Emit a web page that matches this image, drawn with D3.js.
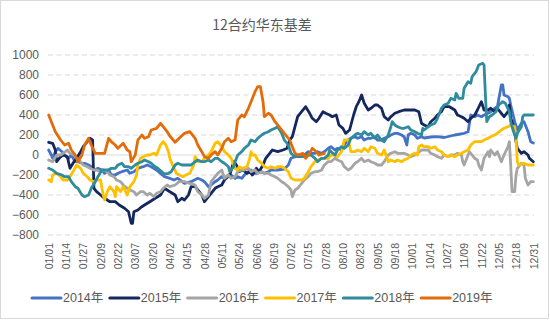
<!DOCTYPE html>
<html><head><meta charset="utf-8">
<script src="https://cdn.jsdelivr.net/npm/d3@7"></script>
<style>
body{margin:0;background:#fff;}
text{font-family:"Liberation Sans","Noto Sans CJK SC",sans-serif;fill:#595959;}
</style>
</head><body>
<svg id="chart" width="550" height="321"></svg>
<script>
const title = "12合约华东基差";
const seriesNames = ["2014年","2015年","2016年","2017年","2018年","2019年"];
const yTicks = [-800,-600,-400,-200,0,200,400,600,800,1000];
const xTickLabels = ["01/01","01/14","01/27","02/09","02/22","03/07","03/20","04/02","04/15","04/28","05/11","05/24","06/06","06/19","07/02","07/15","07/28","08/10","08/23","09/05","09/18","10/01","10/14","10/27","11/09","11/22","12/05","12/18","12/31"];

// [day of year, basis]
const s2014 = [[1,50],[3,0],[4,-33],[6,33],[8,67],[11,33],[13,0],[16,-33],[18,0],[21,-67],[23,-67],[26,-83],[28,-83],[31,-100],[33,-117],[36,-150],[38,-133],[41,-150],[43,-183],[46,-150],[48,-200],[51,-200],[53,-183],[56,-167],[60,-150],[62,-183],[65,-167],[68,-133],[72,-117],[75,-100],[78,-117],[82,-150],[85,-183],[88,-217],[92,-233],[95,-250],[98,-233],[103,-283],[108,-267],[113,-233],[116,-250],[118,-267],[121,-317],[123,-300],[126,-267],[128,-250],[131,-217],[133,-233],[136,-200],[138,-200],[141,-233],[143,-217],[146,-233],[148,-200],[151,-167],[153,-150],[156,-183],[158,-183],[161,-167],[163,-183],[166,-167],[168,-150],[171,-150],[173,-150],[178,-140],[181,-100],[183,-33],[186,-17],[188,-17],[191,-17],[193,0],[196,33],[198,17],[201,17],[203,33],[206,17],[208,33],[211,67],[213,83],[216,50],[218,67],[221,50],[223,100],[226,150],[228,167],[231,183],[233,167],[236,183],[238,150],[241,167],[243,167],[246,183],[248,150],[251,150],[253,167],[256,183],[258,200],[261,217],[263,217],[266,200],[268,183],[270,100],[271,200],[273,217],[276,200],[278,167],[281,183],[283,170],[288,180],[293,183],[298,175],[306,200],[313,217],[316,233],[318,400],[321,383],[323,400],[326,383],[328,400],[331,417],[333,433],[336,467],[338,483],[341,700],[342,700],[343,600],[346,583],[347,567],[348,500],[351,333],[353,250],[356,317],[358,333],[359,300],[361,233],[363,133],[365,120]];
const s2015 = [[1,127],[4,117],[6,50],[7,-67],[10,-17],[12,0],[15,-17],[17,-133],[20,-67],[22,-33],[25,33],[27,83],[30,133],[32,167],[34,150],[35,-333],[37,-367],[40,-400],[43,-433],[47,-467],[51,-467],[54,-500],[58,-533],[61,-567],[63,-683],[64,-683],[65,-567],[68,-550],[71,-517],[73,-500],[77,-467],[81,-433],[85,-400],[88,-333],[92,-367],[96,-400],[98,-467],[101,-433],[103,-450],[106,-400],[108,-317],[111,-317],[113,-350],[116,-400],[118,-467],[121,-417],[123,-383],[126,-333],[128,-317],[131,-300],[133,-250],[137,-200],[140,-67],[142,-100],[144,-167],[147,-150],[150,-183],[152,-167],[154,-200],[157,-133],[159,-167],[162,-100],[164,-33],[167,17],[169,50],[173,33],[177,50],[180,67],[182,150],[184,183],[186,283],[188,383],[191,433],[193,467],[194,483],[197,417],[199,367],[202,333],[204,367],[207,433],[209,417],[212,400],[214,383],[217,400],[219,300],[222,267],[224,217],[227,250],[230,400],[232,483],[234,533],[236,600],[238,517],[241,450],[243,467],[246,500],[248,500],[251,467],[253,383],[256,350],[258,383],[261,417],[264,433],[268,450],[272,450],[276,450],[279,433],[281,317],[283,300],[286,283],[288,333],[291,367],[293,400],[296,433],[298,483],[302,483],[306,450],[308,400],[311,383],[313,367],[316,333],[318,367],[321,400],[323,450],[326,533],[328,450],[331,450],[333,467],[336,433],[338,467],[341,417],[343,383],[346,433],[347,500],[348,367],[349,333],[351,233],[352,133],[353,67],[356,17],[358,33],[361,0],[362,-33],[365,-67]];
const s2016 = [[1,-50],[4,-67],[7,0],[10,0],[12,17],[15,50],[17,17],[20,0],[22,-33],[25,-67],[27,-100],[30,-117],[32,-133],[35,-150],[37,-150],[40,-167],[42,-150],[45,-167],[47,-200],[50,-217],[52,-250],[55,-267],[57,-300],[60,-333],[62,-350],[65,-367],[67,-400],[70,-367],[72,-367],[75,-400],[77,-383],[80,-417],[82,-383],[85,-367],[87,-333],[90,-300],[92,-317],[96,-300],[99,-267],[103,-267],[107,-283],[111,-300],[113,-367],[116,-400],[118,-433],[121,-400],[123,-267],[126,-217],[128,-183],[131,-150],[133,-233],[136,-200],[138,-233],[141,-217],[143,-167],[146,-150],[148,-150],[151,-133],[153,-167],[156,-150],[158,-183],[161,-167],[163,-183],[166,-183],[168,-200],[171,-217],[173,-233],[176,-267],[178,-283],[181,-317],[183,-350],[184,-417],[186,-350],[188,-333],[191,-283],[193,-250],[196,-217],[198,-183],[201,-167],[203,-167],[206,-150],[208,-100],[211,-67],[213,-67],[216,-33],[218,-50],[221,-67],[223,-117],[226,-150],[228,-133],[231,-83],[233,-67],[236,-33],[238,-67],[241,-50],[243,-67],[246,-83],[248,-100],[251,-100],[253,-67],[256,0],[258,17],[261,33],[263,17],[266,17],[268,17],[271,0],[273,-17],[276,0],[278,17],[281,50],[283,50],[286,50],[288,17],[291,0],[293,-17],[296,-33],[298,0],[301,-17],[303,0],[306,0],[308,17],[311,0],[312,-67],[313,-100],[316,0],[317,33],[318,17],[321,-33],[323,-50],[324,-100],[326,-150],[328,-33],[331,33],[332,-17],[333,50],[336,0],[338,33],[341,-67],[343,0],[346,83],[347,133],[348,-100],[349,-367],[351,-367],[352,-200],[353,-133],[356,-83],[358,-100],[359,-233],[361,-300],[363,-267],[365,-267]];
const s2017 = [[1,-250],[3,-267],[4,-200],[7,-183],[10,-217],[12,-250],[15,-250],[17,-217],[20,-150],[22,-100],[25,-133],[27,-183],[30,-217],[32,-250],[35,-267],[37,-250],[40,-250],[41,-333],[42,-400],[43,-450],[45,-367],[47,-317],[50,-367],[51,-417],[52,-317],[55,-367],[57,-317],[60,-400],[62,-317],[65,-267],[67,-200],[68,-100],[70,-33],[72,-17],[75,0],[77,0],[80,17],[82,0],[85,100],[87,133],[89,100],[91,33],[92,-33],[94,-100],[97,-183],[99,-200],[102,-217],[104,-200],[107,-183],[110,-100],[111,-17],[113,-67],[116,-67],[118,-33],[121,0],[123,33],[126,117],[128,133],[131,83],[133,33],[136,0],[138,-33],[141,-133],[143,-150],[144,-117],[147,-133],[150,-117],[152,-33],[153,33],[154,0],[156,0],[158,-50],[161,-83],[163,-117],[166,-133],[168,-117],[171,-133],[173,-117],[176,-117],[178,-133],[181,-167],[183,-233],[186,-250],[188,-250],[191,-250],[193,-233],[196,-167],[198,-117],[201,-67],[203,-50],[206,-33],[208,-33],[211,-33],[213,0],[216,0],[218,-17],[221,33],[223,150],[226,150],[228,33],[231,33],[233,50],[236,33],[238,67],[241,33],[243,83],[246,67],[248,17],[251,0],[253,50],[256,-67],[258,-50],[261,-67],[263,-50],[266,-67],[268,-50],[271,-33],[273,0],[276,17],[278,0],[279,83],[281,100],[283,83],[286,83],[288,67],[291,83],[293,50],[296,33],[298,0],[301,-17],[303,0],[306,-17],[308,0],[311,17],[313,33],[316,50],[318,100],[321,133],[323,133],[326,133],[328,150],[331,167],[333,183],[336,200],[338,217],[341,250],[343,267],[346,283],[348,300],[351,283],[352,167],[353,-67],[354,-100],[357,-83],[358,-83],[361,-100],[363,-100],[365,-100]];
const s2018 = [[1,-133],[4,-150],[7,-183],[11,-200],[13,-217],[16,-217],[18,-267],[21,-317],[23,-333],[26,-400],[28,-417],[31,-400],[33,-333],[36,-267],[38,-217],[41,-150],[43,-150],[46,-150],[48,-133],[51,-133],[53,-100],[56,-83],[58,-117],[61,-117],[63,-133],[66,-100],[68,-83],[71,-67],[73,-50],[76,-67],[78,-83],[81,-117],[83,-133],[86,-167],[88,-190],[91,-183],[93,-167],[96,-100],[98,-83],[101,-100],[103,-100],[108,-100],[111,-67],[113,-50],[116,-67],[118,-67],[121,-50],[123,-67],[126,-33],[128,-33],[131,-67],[133,-83],[136,-117],[137,-167],[138,-150],[140,-117],[141,-67],[143,0],[146,33],[148,67],[151,100],[153,150],[156,133],[158,167],[161,200],[163,217],[166,233],[168,250],[171,267],[173,283],[176,217],[178,150],[181,100],[183,17],[186,-17],[188,0],[191,-17],[193,-17],[196,0],[198,0],[201,-33],[203,-67],[206,-33],[208,-33],[211,0],[212,50],[213,33],[216,0],[218,50],[221,83],[223,67],[226,100],[228,167],[231,200],[233,217],[236,200],[238,233],[241,200],[243,217],[246,167],[248,200],[251,150],[253,133],[256,200],[258,283],[259,333],[261,300],[263,283],[266,267],[268,267],[271,283],[273,250],[276,233],[278,217],[281,200],[282,267],[283,250],[286,283],[288,300],[291,317],[293,367],[296,467],[298,500],[301,517],[303,567],[306,550],[307,617],[309,567],[312,567],[313,667],[316,733],[318,717],[319,783],[322,833],[324,900],[327,917],[328,900],[329,600],[330,333],[332,383],[334,400],[337,433],[339,500],[342,533],[344,517],[347,433],[348,333],[349,283],[351,200],[352,167],[353,217],[356,283],[357,383],[358,400],[361,400],[363,400],[365,400]];
const s2019 = [[1,400],[6,233],[10,150],[13,100],[16,117],[18,50],[21,0],[23,-67],[26,0],[28,100],[31,167],[33,100],[36,17],[40,17],[43,17],[46,167],[48,133],[51,100],[53,67],[57,117],[60,50],[62,33],[63,-67],[66,0],[68,150],[71,200],[73,167],[76,183],[78,250],[82,267],[85,317],[87,283],[90,233],[92,190],[96,127],[99,167],[103,217],[107,233],[111,167],[113,100],[116,33],[118,-17],[121,-33],[123,0],[126,33],[128,0],[131,67],[133,133],[136,167],[138,133],[141,150],[143,350],[146,400],[148,383],[151,467],[153,533],[156,633],[158,683],[160,683],[162,533],[163,383],[166,417],[168,400],[171,333],[174,283],[178,217],[182,150],[184,83],[186,17],[188,0],[192,17],[194,-33],[197,17],[199,67],[202,33],[204,0],[208,17]];

const seriesData = [s2014, s2015, s2016, s2017, s2018, s2019];
const palette = ["#4472C4","#14285E","#A5A5A5","#FFC000","#2E8C9C","#E36C0A"];

const svg = d3.select("#chart");
const margin = {left:48, right:16, top:55, bottom:86};
const W = 550, H = 321;

svg.append("rect").attr("x",0.5).attr("y",0.5).attr("width",W-2).attr("height",H-3)
  .attr("fill","#fff").attr("stroke","#D9D9D9");

const x = d3.scaleLinear().domain([0.5, 365.5]).range([margin.left, W - margin.right]);
const y = d3.scaleLinear().domain([-800, 1000]).range([235, 55]);

const parse = d3.timeParse("%Y/%m/%d");
const dayOf = s => { const dt = parse("2015/" + s); return d3.timeDay.count(d3.timeYear(dt), dt) + 1; };
const tickDays = xTickLabels.map(dayOf);

// gridlines
svg.append("g").selectAll("line").data(yTicks.filter(v => v !== 0)).join("line")
  .attr("x1", x.range()[0]).attr("x2", x.range()[1])
  .attr("y1", d => y(d)).attr("y2", d => y(d))
  .attr("stroke","#D9D9D9").attr("stroke-width",1).attr("stroke-dasharray","5,3.5");

// y axis labels
const yAxis = d3.axisLeft(y).tickValues(yTicks).tickSize(0).tickPadding(9).tickFormat(d3.format("d"));
svg.append("g").attr("transform",`translate(${margin.left},0)`).call(yAxis)
  .call(g => g.select(".domain").remove())
  .selectAll("text").attr("font-size","12px").attr("fill","#595959")
  .style("font-family","'Liberation Sans',sans-serif");

// zero line
svg.append("line").attr("x1", x.range()[0]).attr("x2", x.range()[1])
  .attr("y1", y(0)).attr("y2", y(0)).attr("stroke","#D9D9D9").attr("stroke-width",1);

// x axis labels at bottom
const xAxis = d3.axisBottom(x).tickValues(tickDays).tickSize(0)
  .tickFormat((d,i) => xTickLabels[i]);
const gx = svg.append("g").attr("transform",`translate(0,${y(-800)})`).call(xAxis);
gx.select(".domain").remove();
gx.selectAll("text")
  .attr("font-size","10.5px").attr("fill","#595959")
  .style("font-family","'Liberation Sans',sans-serif")
  .attr("text-anchor","end")
  .attr("transform","rotate(-90)")
  .attr("x",-8).attr("y",0).attr("dy","0.35em");

// lines
const line = d3.line().x(d => x(d[0])).y(d => y(d[1]));
svg.append("g").selectAll("path").data(seriesData).join("path")
  .attr("d", line)
  .attr("fill","none")
  .attr("stroke", (d,i) => palette[i])
  .attr("stroke-width", 2.8)
  .attr("stroke-linejoin","round")
  .attr("stroke-linecap","round");

// title
svg.append("text").attr("x", 262).attr("y", 30).attr("text-anchor","middle")
  .attr("font-size","14px").attr("fill","#595959")
  .style("font-family","'Noto Sans CJK SC',sans-serif")
  .text(title);

// legend
const legendX = d3.scaleLinear().domain([0, seriesNames.length]).range([32, 499]);
const lg = svg.append("g").selectAll("g").data(seriesNames).join("g")
  .attr("transform",(d,i)=>`translate(${legendX(i)},298)`);
lg.append("line").attr("x1",0).attr("x2",29).attr("y1",0).attr("y2",0)
  .attr("stroke",(d,i)=>palette[i]).attr("stroke-width",3).attr("stroke-linecap","round");
lg.append("text").attr("x",31).attr("y",0).attr("dy","0.35em")
  .attr("font-size","12.5px").attr("fill","#595959").text(d=>d);
</script>
</body></html>
